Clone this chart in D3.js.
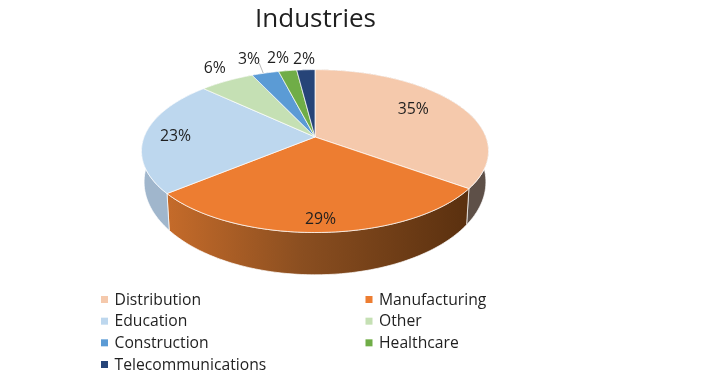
<!DOCTYPE html>
<html>
<head>
<meta charset="utf-8">
<script src="https://cdn.jsdelivr.net/npm/d3@7"></script>
<style>
  html, body { margin: 0; padding: 0; background: #fff; }
  text { font-family: "Open Sans", sans-serif; fill: #1f1f1f; }
</style>
</head>
<body>
<script>
const width = 713;
const height = 381;

// data
const categories = ["Distribution", "Manufacturing", "Education", "Other", "Construction", "Healthcare", "Telecommunications"];
const shares = [35, 29, 23, 6, 3, 2, 2];
const topColors = ["#F5C9AC", "#ED7D31", "#BDD7EE", "#C5E0B4", "#5B9BD5", "#70AD47", "#264478"];
const wallColors = ["#5E5048", "url(#wallOrange)", "#A0B6CC", "#8A9C7E", "#3F6C95", "#4E7932", "#1A2F54"];

// label placement: distance from the apex as a share of the radius, and a small nudge
const labelRadius = [0.68, 0.87, 0.82, 1.16, 1.4, 1.44, 1.25];
const labelNudge = [-6, 0, 0, -6, 6, 10, 2];

// tilted pie: the apex sits above the middle of the ellipse, so it is a perspective projection
const apexX = 315;
const apexY = 137;
const tilt = -0.1728;
const scaleX = 170.9;
const scaleY = 79;
// lower rim of the wall
const wallShrink = 0.985;
const wallStretch = 1.14;
const wallDrop = 28.9;

function project(angle, r) {
    const u = -Math.cos(angle) * r;
    const v = Math.sin(angle) * r;
    const w = 1 + tilt * u;
    return [scaleX * v / w, scaleY * u / w];
}
function topPoint(angle, r) {
    const p = project(angle, r);
    return [apexX + p[0], apexY + p[1]];
}
function bottomPoint(angle) {
    const p = project(angle, 1);
    return [apexX + p[0] * wallShrink, apexY + p[1] * wallStretch + wallDrop];
}
function rimAngles(d) {
    const steps = Math.max(4, Math.ceil((d.endAngle - d.startAngle) * 60));
    return d3.range(steps + 1).map(i => d.startAngle + (d.endAngle - d.startAngle) * i / steps);
}

const color = d3.scaleOrdinal().domain(categories).range(topColors);
const wallColor = d3.scaleOrdinal().domain(categories).range(wallColors);
const pie = d3.pie().sort(null).value((d, i) => shares[i]);
const slices = pie(categories);
const line = d3.line();

const svg = d3.select("body").append("svg")
    .attr("width", width)
    .attr("height", height)
    .style("display", "block")
    .style("filter", "blur(0.35px)");

const grad = svg.append("defs").append("linearGradient")
    .attr("id", "wallOrange")
    .attr("gradientUnits", "userSpaceOnUse")
    .attr("x1", 167).attr("x2", 469).attr("y1", 0).attr("y2", 0);
grad.append("stop").attr("offset", "0%").attr("stop-color", "#C56B2A");
grad.append("stop").attr("offset", "45%").attr("stop-color", "#8A4E20");
grad.append("stop").attr("offset", "100%").attr("stop-color", "#5A300F");

// walls first, the top covers what is behind
svg.append("g").selectAll("path")
    .data(slices)
    .join("path")
    .attr("d", d => {
        const a = rimAngles(d);
        return line(a.map(t => topPoint(t, 1)).concat(a.slice().reverse().map(bottomPoint))) + "Z";
    })
    .attr("fill", d => wallColor(d.data))
    .attr("stroke", "#fff")
    .attr("stroke-width", 0.7);

// top of the pie
svg.append("g").selectAll("path")
    .data(slices)
    .join("path")
    .attr("d", d => line([[apexX, apexY]].concat(rimAngles(d).map(t => topPoint(t, 1)))) + "Z")
    .attr("fill", d => color(d.data))
    .attr("stroke", "#fff")
    .attr("stroke-width", 0.7);

// leader line of the 3% label
const leaderStart = topPoint(slices[4].startAngle + (slices[4].endAngle - slices[4].startAngle) / 2, 1);
svg.append("line")
    .attr("x1", leaderStart[0] - 2).attr("y1", leaderStart[1])
    .attr("x2", leaderStart[0] - 6).attr("y2", leaderStart[1] - 10)
    .attr("stroke", "#A6A6A6")
    .attr("stroke-width", 0.8);

// percent labels
svg.append("g").selectAll("text")
    .data(slices)
    .join("text")
    .attr("x", (d, i) => topPoint((d.startAngle + d.endAngle) / 2, labelRadius[i])[0])
    .attr("y", (d, i) => topPoint((d.startAngle + d.endAngle) / 2, labelRadius[i])[1] + labelNudge[i])
    .attr("dy", "0.36em")
    .attr("text-anchor", "middle")
    .style("font-size", "15.8px")
    .text(d => d.value + "%");

// title
svg.append("text")
    .attr("x", 315.5)
    .attr("y", 27)
    .attr("text-anchor", "middle")
    .style("font-size", "26px")
    .text("Industries");

// legend
const legendX = d3.scaleOrdinal().domain([0, 1]).range([101, 365.5]);
const legendY = d3.scalePoint().domain([0, 1, 2, 3]).range([299, 364]);
const legend = svg.append("g").selectAll("g")
    .data(categories)
    .join("g")
    .attr("transform", (d, i) => "translate(" + legendX(i % 2 && i < 6 ? 1 : 0) + "," + legendY(Math.floor(i / 2)) + ")");
legend.append("rect")
    .attr("x", 0).attr("y", -3)
    .attr("width", 7).attr("height", 7)
    .attr("fill", d => color(d));
legend.append("text")
    .attr("x", 13.5)
    .attr("dy", "0.36em")
    .style("font-size", "15.7px")
    .text(d => d);
</script>
</body>
</html>
